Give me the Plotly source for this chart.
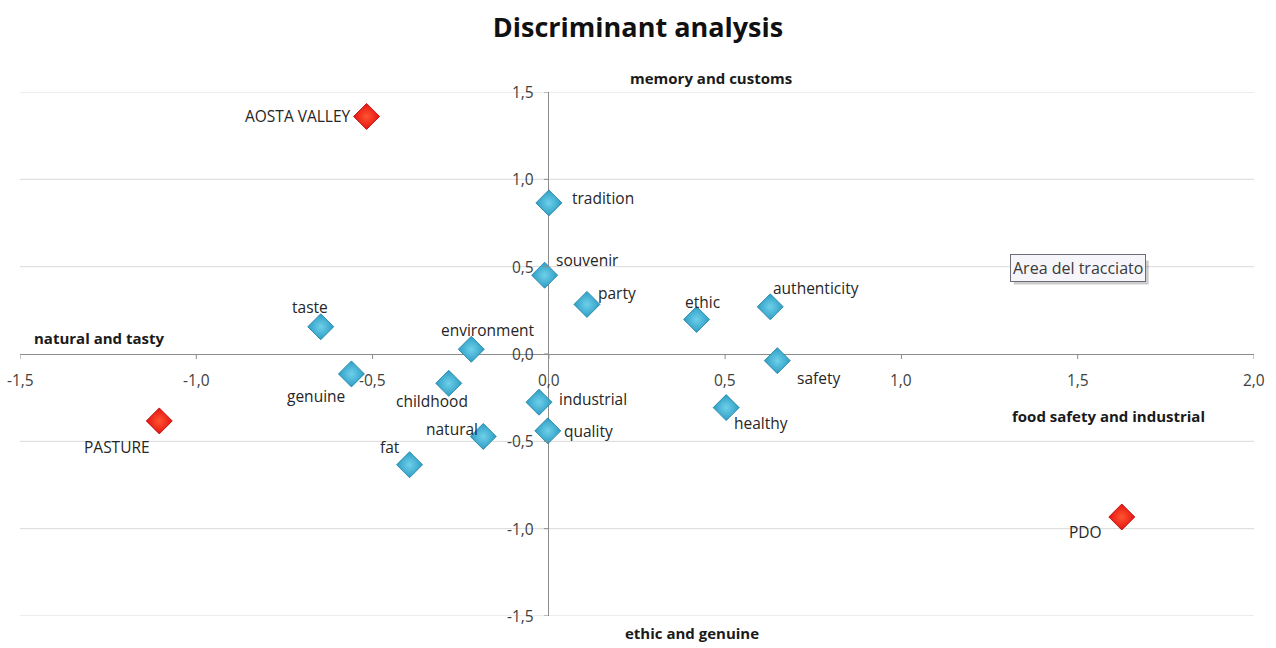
import plotly.graph_objects as go

# Discriminant analysis: attribute coordinates and region centroids
attr_names = ["tradition", "souvenir", "party", "taste", "environment", "ethic",
              "authenticity", "genuine", "childhood", "industrial", "natural",
              "quality", "fat", "safety", "healthy"]
attr_x = [0.00, -0.012, 0.108, -0.647, -0.22, 0.419, 0.628, -0.56, -0.284,
          -0.028, -0.186, -0.003, -0.395, 0.648, 0.503]
attr_y = [0.865, 0.451, 0.284, 0.156, 0.027, 0.198, 0.27, -0.114, -0.168,
          -0.276, -0.472, -0.44, -0.634, -0.038, -0.307]

region_names = ["AOSTA VALLEY", "PASTURE", "PDO"]
region_x = [-0.517, -1.105, 1.625]
region_y = [1.36, -0.383, -0.933]

x_ticks = [-1.5, -1.0, -0.5, 0.0, 0.5, 1.0, 1.5, 2.0]
y_ticks = [-1.5, -1.0, -0.5, 0.0, 0.5, 1.0, 1.5]

# label placement for each point: (xanchor, xshift, yshift)
label_place = {
    "tradition": ("left", 21, 5),
    "souvenir": ("left", 9, 15),
    "party": ("left", 9, 11),
    "taste": ("center", -11, 20),
    "environment": ("center", 17, 19),
    "ethic": ("center", 6, 17),
    "authenticity": ("left", 1, 19),
    "genuine": ("center", -35, -22),
    "childhood": ("center", -17, -18),
    "industrial": ("left", 18, 3),
    "natural": ("right", -3, 7),
    "quality": ("left", 14, 0),
    "fat": ("center", -20, 18),
    "safety": ("left", 18, -17),
    "healthy": ("left", 6, -15),
    "AOSTA VALLEY": ("right", -14, 0),
    "PASTURE": ("center", -42, -26),
    "PDO": ("right", -18, -15),
}

FONT = "Open Sans, Lato, sans-serif"

fig = go.Figure()

fig.add_trace(go.Scatter(
    x=attr_x, y=attr_y, mode="markers", name="attributes",
    marker=dict(symbol="diamond", size=20, color="#2C9DC4",
                gradient=dict(type="radial", color="#6FD0EA"),
                line=dict(color="#1C7FA0", width=0.8)),
    hoverinfo="skip",
))
fig.add_trace(go.Scatter(
    x=region_x, y=region_y, mode="markers", name="regions",
    marker=dict(symbol="diamond", size=20, color="#E51212",
                gradient=dict(type="radial", color="#FF5530"),
                line=dict(color="#B00000", width=0.8)),
    hoverinfo="skip",
))

annotations = []
shapes = []

# horizontal gridlines across the full plot width
for t in y_ticks:
    if t != 0:
        shapes.append(dict(type="line", xref="x", yref="y", x0=x_ticks[0], x1=x_ticks[-1],
                           y0=t, y1=t, layer="below",
                           line=dict(color="#D9D9D9", width=1)))

# point labels
for names, xs, ys in ((attr_names, attr_x, attr_y), (region_names, region_x, region_y)):
    for n, x, y in zip(names, xs, ys):
        anchor, dx, dy = label_place[n]
        annotations.append(dict(
            x=x, y=y, text=n, showarrow=False, xanchor=anchor, yanchor="middle",
            xshift=dx, yshift=dy, font=dict(family=FONT, size=15.5, color="#262626"),
        ))

# tick marks and tick labels at the axis crossing
def fmt(v):
    return f"{v:.1f}".replace(".", ",")

for t in x_ticks:
    shapes.append(dict(type="line", xref="x", yref="y", ysizemode="pixel",
                       yanchor=0, x0=t, x1=t, y0=0, y1=-5,
                       line=dict(color="#8C8C8C", width=1)))
    annotations.append(dict(x=t, y=0, text=fmt(t), showarrow=False,
                            xanchor="center", yanchor="top", yshift=-13,
                            font=dict(family=FONT, size=15.5, color="#404040")))
for t in y_ticks:
    shapes.append(dict(type="line", xref="x", yref="y", xsizemode="pixel",
                       xanchor=0, x0=0, x1=-5, y0=t, y1=t,
                       line=dict(color="#8C8C8C", width=1)))
    annotations.append(dict(x=0, y=t, text=fmt(t), showarrow=False,
                            xanchor="right", yanchor="middle", xshift=-13,
                            font=dict(family=FONT, size=15.5, color="#404040")))

# pole labels of the two discriminant functions
bold = dict(family=FONT, size=15, color="#1A1A1A")
annotations += [
    dict(x=0.0, y=1.5, text="<b>memory and customs</b>", showarrow=False,
         xanchor="left", yanchor="bottom", xshift=79, yshift=2, font=bold),
    dict(x=-1.5, y=0.0, text="<b>natural and tasty</b>", showarrow=False,
         xanchor="left", yanchor="bottom", xshift=12, yshift=4, font=bold),
    dict(x=2.0, y=-0.5, text="<b>food safety and industrial</b>", showarrow=False,
         xanchor="right", yanchor="middle", xshift=-47, yshift=25, font=bold),
    dict(x=0.0, y=-1.5, text="<b>ethic and genuine</b>", showarrow=False,
         xanchor="left", yanchor="top", xshift=74, yshift=-5, font=bold),
]

# plot-area tooltip box with a soft drop shadow
shapes.append(dict(type="rect", xref="x", yref="y", xsizemode="pixel", ysizemode="pixel",
                   xanchor=1.5, yanchor=0.49, x0=-64, x1=71, y0=-16, y1=8,
                   fillcolor="rgba(0,0,0,0.2)", line=dict(width=0)))
annotations.append(dict(x=1.5, y=0.49, text="Area del tracciato", showarrow=False,
                        xanchor="center", yanchor="middle",
                        font=dict(family=FONT, size=16, color="#3A3A3A"),
                        bgcolor="#F5F5FA", bordercolor="#6E6E78", borderwidth=1,
                        borderpad=2))

fig.update_layout(
    width=1276, height=648,
    margin=dict(l=20, r=22, t=92, b=32),
    paper_bgcolor="white", plot_bgcolor="white",
    showlegend=False,
    title=dict(text="<b>Discriminant analysis</b>", x=0.5, xanchor="center",
               y=0.958, yanchor="middle",
               font=dict(family=FONT, size=27, color="#111111")),
    xaxis=dict(range=[-1.5, 2.0], showgrid=False, showticklabels=False, ticks="",
               zeroline=True, zerolinecolor="#8C8C8C", zerolinewidth=1,
               fixedrange=True),
    yaxis=dict(range=[-1.5, 1.5], showgrid=False, showticklabels=False, ticks="",
               zeroline=True, zerolinecolor="#8C8C8C", zerolinewidth=1,
               fixedrange=True),
    shapes=shapes,
    annotations=annotations,
)

fig.write_html("out.html", config={"displayModeBar": False})
